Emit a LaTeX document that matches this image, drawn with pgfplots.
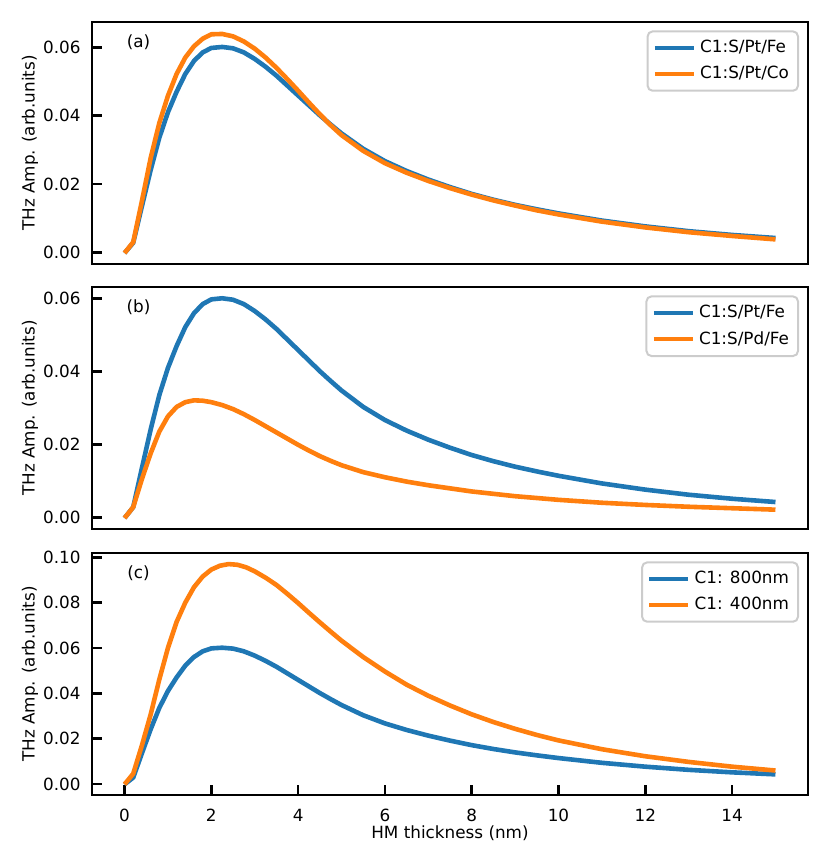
\documentclass[border=0pt]{standalone}
\usepackage{pgfplots}
\usepackage{pgfplotstable}
\usepackage{fontspec}
\setmainfont{DejaVu Sans}
\pgfplotsset{compat=1.18}
\definecolor{mblue}{HTML}{1F77B4}
\definecolor{morange}{HTML}{FF7F0E}

\pgfplotstableread{
x y
0 -0.0002
0.2 0.0028
0.4 0.0135
0.6 0.0240
0.8 0.0335
1.0 0.0410
1.2 0.0470
1.4 0.0522
1.6 0.0560
1.8 0.0585
2.0 0.0598
2.25 0.0601
2.5 0.0597
2.75 0.0585
3.0 0.0566
3.25 0.0543
3.5 0.0517
3.75 0.0488
4.0 0.0459
4.25 0.0430
4.5 0.0401
4.75 0.0374
5.0 0.0348
5.5 0.0303
6.0 0.0267
6.5 0.0238
7.0 0.0213
7.5 0.0191
8.0 0.0171
8.5 0.0154
9.0 0.0139
9.5 0.0126
10 0.0114
11 0.0093
12 0.0076
13 0.0062
14 0.0051
15 0.0042
}\ptfe

\pgfplotstableread{
x y
0 -0.0002
0.2 0.0030
0.4 0.0150
0.6 0.0275
0.8 0.0378
1.0 0.0458
1.2 0.0522
1.4 0.0570
1.6 0.0603
1.8 0.0625
2.0 0.0638
2.25 0.0639
2.5 0.0632
2.75 0.0617
3.0 0.0596
3.25 0.0570
3.5 0.0540
3.75 0.0507
4.0 0.0473
4.25 0.0438
4.5 0.0404
4.75 0.0372
5.0 0.0343
5.5 0.0297
6.0 0.0261
6.5 0.0233
7.0 0.0209
7.5 0.0188
8.0 0.0169
8.5 0.0152
9.0 0.0137
9.5 0.0123
10 0.0111
11 0.0090
12 0.0073
13 0.0059
14 0.0048
15 0.0038
}\ptco

\pgfplotstableread{
x y
0 -0.0002
0.2 0.0028
0.4 0.0105
0.6 0.0175
0.8 0.0235
1.0 0.0277
1.2 0.0303
1.4 0.0316
1.6 0.0321
1.8 0.0320
2.0 0.0316
2.25 0.0308
2.5 0.0297
2.75 0.0283
3.0 0.0267
3.25 0.0250
3.5 0.0233
3.75 0.0216
4.0 0.0199
4.25 0.0183
4.5 0.0168
4.75 0.0155
5.0 0.0143
5.5 0.0124
6.0 0.0110
6.5 0.0098
7.0 0.0088
8.0 0.0071
9.0 0.0058
10 0.0048
11 0.0040
12 0.0034
13 0.0029
14 0.0025
15 0.0021
}\pdfe

\pgfplotstableread{
x y
0 -0.0002
0.2 0.0045
0.4 0.0170
0.6 0.0305
0.8 0.0460
1.0 0.0600
1.2 0.0715
1.4 0.0800
1.6 0.0868
1.8 0.0915
2.0 0.0946
2.2 0.0963
2.4 0.0970
2.6 0.0967
2.8 0.0956
3.0 0.0938
3.25 0.0910
3.5 0.0878
3.75 0.0839
4.0 0.0798
4.25 0.0755
4.5 0.0713
4.75 0.0672
5.0 0.0632
5.5 0.0560
6.0 0.0496
6.5 0.0438
7.0 0.0389
7.5 0.0346
8.0 0.0307
8.5 0.0273
9.0 0.0243
9.5 0.0216
10 0.0192
11 0.0153
12 0.0122
13 0.0097
14 0.0076
15 0.0059
}\fourh

\pgfplotsset{
  panel/.style={
    width=358pt, height=121pt, scale only axis,
    xmin=-0.75, xmax=15.75,
    axis line style={line width=1.25pt},
    tick align=inside,
    ytick pos=left,
    major tick length=5pt,
    every tick/.style={black, line width=1.25pt},
    scaled y ticks=false,
    /pgf/number format/assume math mode=true,
    font=\fontsize{8.4}{10}\selectfont,
    yticklabel style={/pgf/number format/.cd, fixed, fixed zerofill, precision=2, /tikz/.cd, xshift=-2.2pt},
    xticklabel style={yshift=-3.7pt},
    every axis y label/.style={at={(axis description cs:-0.0866,0.5)}, rotate=90, anchor=center},
    ylabel={THz Amp. (arb.units)},
    legend style={at={(1,1)}, anchor=north east, xshift=-4.5pt, yshift=-4.2pt,
      draw=black!20, rounded corners=2.5pt, line width=1pt, fill=white,
      font=\fontsize{8.4}{10}\selectfont, row sep=1.2pt, inner xsep=2.5pt, inner ysep=2.5pt},
    legend cell align=left,
    legend image code/.code={\draw[#1] (0pt,0pt) -- (19.5pt,0pt);},
    every axis plot/.append style={line width=2.3pt, line join=round},
  }
}

\begin{document}
\begin{tikzpicture}
\useasboundingbox (0,0) rectangle (415pt,433.5pt);
\begin{axis}[panel, at={(46pt,301.5pt)}, anchor=south west,
  ymin=-0.0034, ymax=0.0674, ytick={0,0.02,0.04,0.06}, xtick=\empty]
\addplot[mblue] table {\ptfe};
\addplot[morange] table {\ptco};
\legend{C1:S/Pt/Fe, C1:S/Pt/Co}
\node at (axis description cs:0.065,0.915) {(a)};
\end{axis}
\begin{axis}[panel, at={(46pt,169pt)}, anchor=south west,
  ymin=-0.0032, ymax=0.0632, ytick={0,0.02,0.04,0.06}, xtick=\empty]
\addplot[mblue] table {\ptfe};
\addplot[morange] table {\pdfe};
\legend{C1:S/Pt/Fe, C1:S/Pd/Fe}
\node at (axis description cs:0.065,0.915) {(b)};
\end{axis}
\begin{axis}[panel, at={(46pt,36pt)}, anchor=south west,
  ymin=-0.0049, ymax=0.1019, ytick={0,0.02,0.04,0.06,0.08,0.10},
  xtick={0,2,4,6,8,10,12,14}, xtick pos=bottom,
  xlabel={HM thickness (nm)},
  every axis x label/.style={at={(axis description cs:0.5,-0.157)}, anchor=center}]
\addplot[mblue] table {\ptfe};
\addplot[morange] table {\fourh};
\legend{C1: 800nm, C1: 400nm}
\node at (axis description cs:0.065,0.915) {(c)};
\end{axis}
\end{tikzpicture}
\end{document}
